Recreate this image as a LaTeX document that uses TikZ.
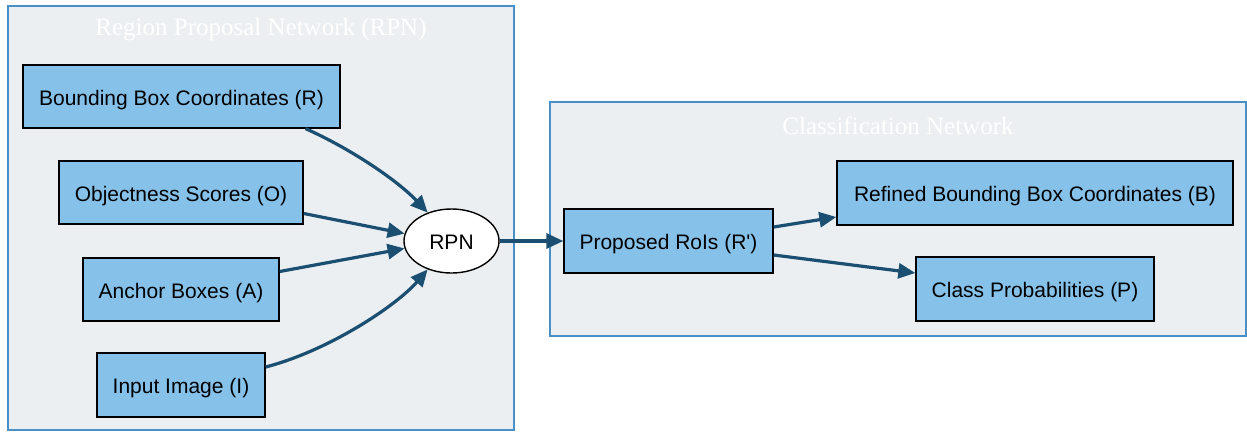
\documentclass[tikz,border=0pt]{standalone}
\usepackage{fontspec}
\setmainfont{Liberation Sans}[Ligatures=TeXOff]
\newfontfamily\titlefont{Liberation Serif}
\usetikzlibrary{arrows.meta,shapes.geometric}
\definecolor{boxfill}{HTML}{85C1E9}
\definecolor{clusterfill}{HTML}{EBEFF1}
\definecolor{clusterline}{HTML}{4A90C8}
\definecolor{edgecol}{HTML}{1B4F72}
\tikzset{
  cluster/.style={draw=clusterline,fill=clusterfill,line width=1.3pt},
  ctitle/.style={text=white,font=\titlefont\fontsize{25}{28}\selectfont},
  box/.style={draw=black,fill=boxfill,line width=1.4pt,rectangle,inner sep=0pt,
    text height=20pt,text depth=3pt,font=\fontsize{21}{25}\selectfont},
  oval/.style={draw=black,fill=white,line width=1.4pt,ellipse,inner sep=0pt,
    text height=20pt,text depth=3pt,
    minimum width=95pt,minimum height=64pt,font=\fontsize{21}{25}\selectfont},
  edge/.style={draw=edgecol,line width=3.2pt,-{Triangle[length=17pt,width=15pt]}}
}
\begin{document}
\begin{tikzpicture}[x=1pt,y=-1pt]
\useasboundingbox (0,0) rectangle (1247,432);
% clusters
\path[cluster] (8,6) rectangle (514,430);
\path[cluster] (550,102) rectangle (1246,336);
\node[ctitle] (t1) at (261,30) {Region Proposal Network (RPN)};
\node[ctitle] (t2) at (898,126) {Classification Network};
% nodes
\node[box,minimum width=317pt,minimum height=63pt] (R) at (181.5,96.5) {Bounding Box Coordinates (R)};
\node[box,minimum width=244pt,minimum height=63pt] (O) at (181,192.5) {Objectness Scores (O)};
\node[box,minimum width=196pt,minimum height=63pt] (A) at (181,289.5) {Anchor Boxes (A)};
\node[box,minimum width=168pt,minimum height=64pt] (I) at (181,385) {Input Image (I)};
\node[oval] (rpn) at (451.5,241) {RPN};
\node[box,minimum width=209pt,minimum height=64pt] (Rp) at (668.5,241) {Proposed RoIs (R')};
\node[box,minimum width=396pt,minimum height=64pt] (B) at (1035,193) {Refined Bounding Box Coordinates (B)};
\node[box,minimum width=238pt,minimum height=64pt] (P) at (1035,289) {Class Probabilities (P)};
% edges
\draw[edge] ([xshift=-35pt]R.south east) .. controls +(45,20) and +(-30,-32) .. (rpn.130);
\draw[edge] ([yshift=-21pt]O.east) -- (rpn.171);
\draw[edge] ([yshift=18pt]A.east) -- (rpn.189);
\draw[edge] ([yshift=18pt]I.east) .. controls +(65,-17) and +(-30,35) .. (rpn.230);
\draw[edge] (rpn.east) -- (Rp.west);
\draw[edge] ([yshift=14pt]Rp.east) -- ([yshift=-24pt]B.west);
\draw[edge] ([yshift=-14pt]Rp.east) -- ([yshift=16pt]P.west);
\end{tikzpicture}
\end{document}
